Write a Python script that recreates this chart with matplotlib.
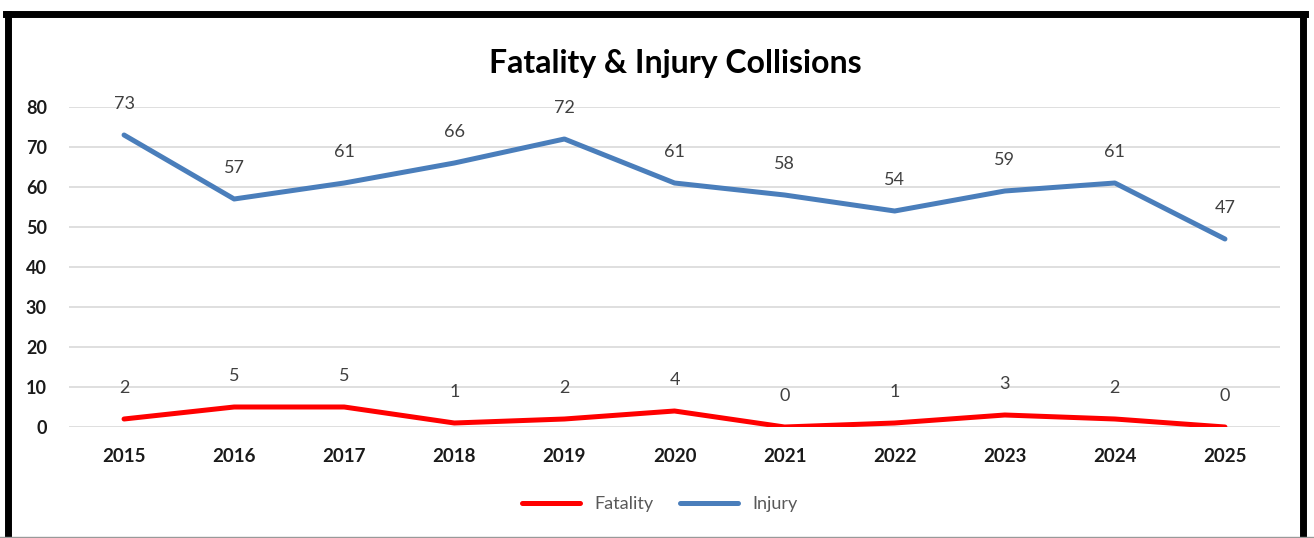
import matplotlib.pyplot as plt
from matplotlib.lines import Line2D

years = [2015, 2016, 2017, 2018, 2019, 2020, 2021, 2022, 2023, 2024, 2025]
fatality = [2, 5, 5, 1, 2, 4, 0, 1, 3, 2, 0]
injury = [73, 57, 61, 66, 72, 61, 58, 54, 59, 61, 47]
y_ticks = [0, 10, 20, 30, 40, 50, 60, 70, 80]

plt.rcParams["font.family"] = ["Lato", "DejaVu Sans"]

W, H = 1314, 538
fig = plt.figure(figsize=(W / 100, H / 100), dpi=100)
ax = fig.add_axes([69 / W, 1 - 427 / H, (1280 - 69) / W, (427 - 107) / H])

x = list(range(len(years)))
ax.plot(x, injury, color="#4a7ebb", linewidth=3.6, solid_capstyle="round", zorder=3)
ax.plot(x, fatality, color="#ff0000", linewidth=3.6, solid_capstyle="round", zorder=3)

# data labels above each point
for xi, v in zip(x, injury):
    ax.annotate(str(v), (xi, v), xytext=(0, 22), textcoords="offset points",
                ha="center", va="center", fontsize=13, color="#404040")
for xi, v in zip(x, fatality):
    ax.annotate(str(v), (xi, v), xytext=(0, 22), textcoords="offset points",
                ha="center", va="center", fontsize=13, color="#404040")

ax.set_xlim(-0.5, len(years) - 0.5)
ax.set_ylim(0, 80)
ax.set_yticks(y_ticks)
ax.set_yticklabels([str(t) for t in y_ticks], fontsize=13, fontweight="bold", color="#1a1a1a")
ax.set_xticks(x)
ax.set_xticklabels([str(y) for y in years], fontsize=13.5, fontweight="bold", color="#1a1a1a")
ax.tick_params(length=0)
ax.tick_params(axis="y", pad=16)
ax.tick_params(axis="x", pad=15)
for s in ax.spines.values():
    s.set_visible(False)
ax.grid(axis="y", color="#d9d9d9", linewidth=1.2, zorder=0)
ax.set_axisbelow(True)

fig.text(675 / W, 1 - 63 / H, "Fatality & Injury Collisions", ha="center", va="center",
         fontsize=23, fontweight="bold", color="#000000")

handles = [Line2D([], [], color="#ff0000", linewidth=3.6, solid_capstyle="round"),
           Line2D([], [], color="#4a7ebb", linewidth=3.6, solid_capstyle="round")]
fig.legend(handles, ["Fatality", "Injury"], loc="center", bbox_to_anchor=(660 / W, 1 - 504 / H),
           ncol=2, frameon=False, fontsize=13, handlelength=3.2, columnspacing=1.5,
           labelcolor="#595959")

# outer border
fig.add_artist(Line2D([8 / W, 8 / W], [0, 1 - 14 / H], color="black", linewidth=5, transform=fig.transFigure))
fig.add_artist(Line2D([1303 / W, 1303 / W], [0, 1 - 14 / H], color="black", linewidth=5, transform=fig.transFigure))
fig.add_artist(Line2D([6 / W, 1305 / W], [1 - 14 / H, 1 - 14 / H], color="black", linewidth=5, transform=fig.transFigure))
fig.add_artist(Line2D([0, 1], [1 / H, 1 / H], color="#999999", linewidth=1, transform=fig.transFigure))

fig.savefig("out.png", dpi=100)
